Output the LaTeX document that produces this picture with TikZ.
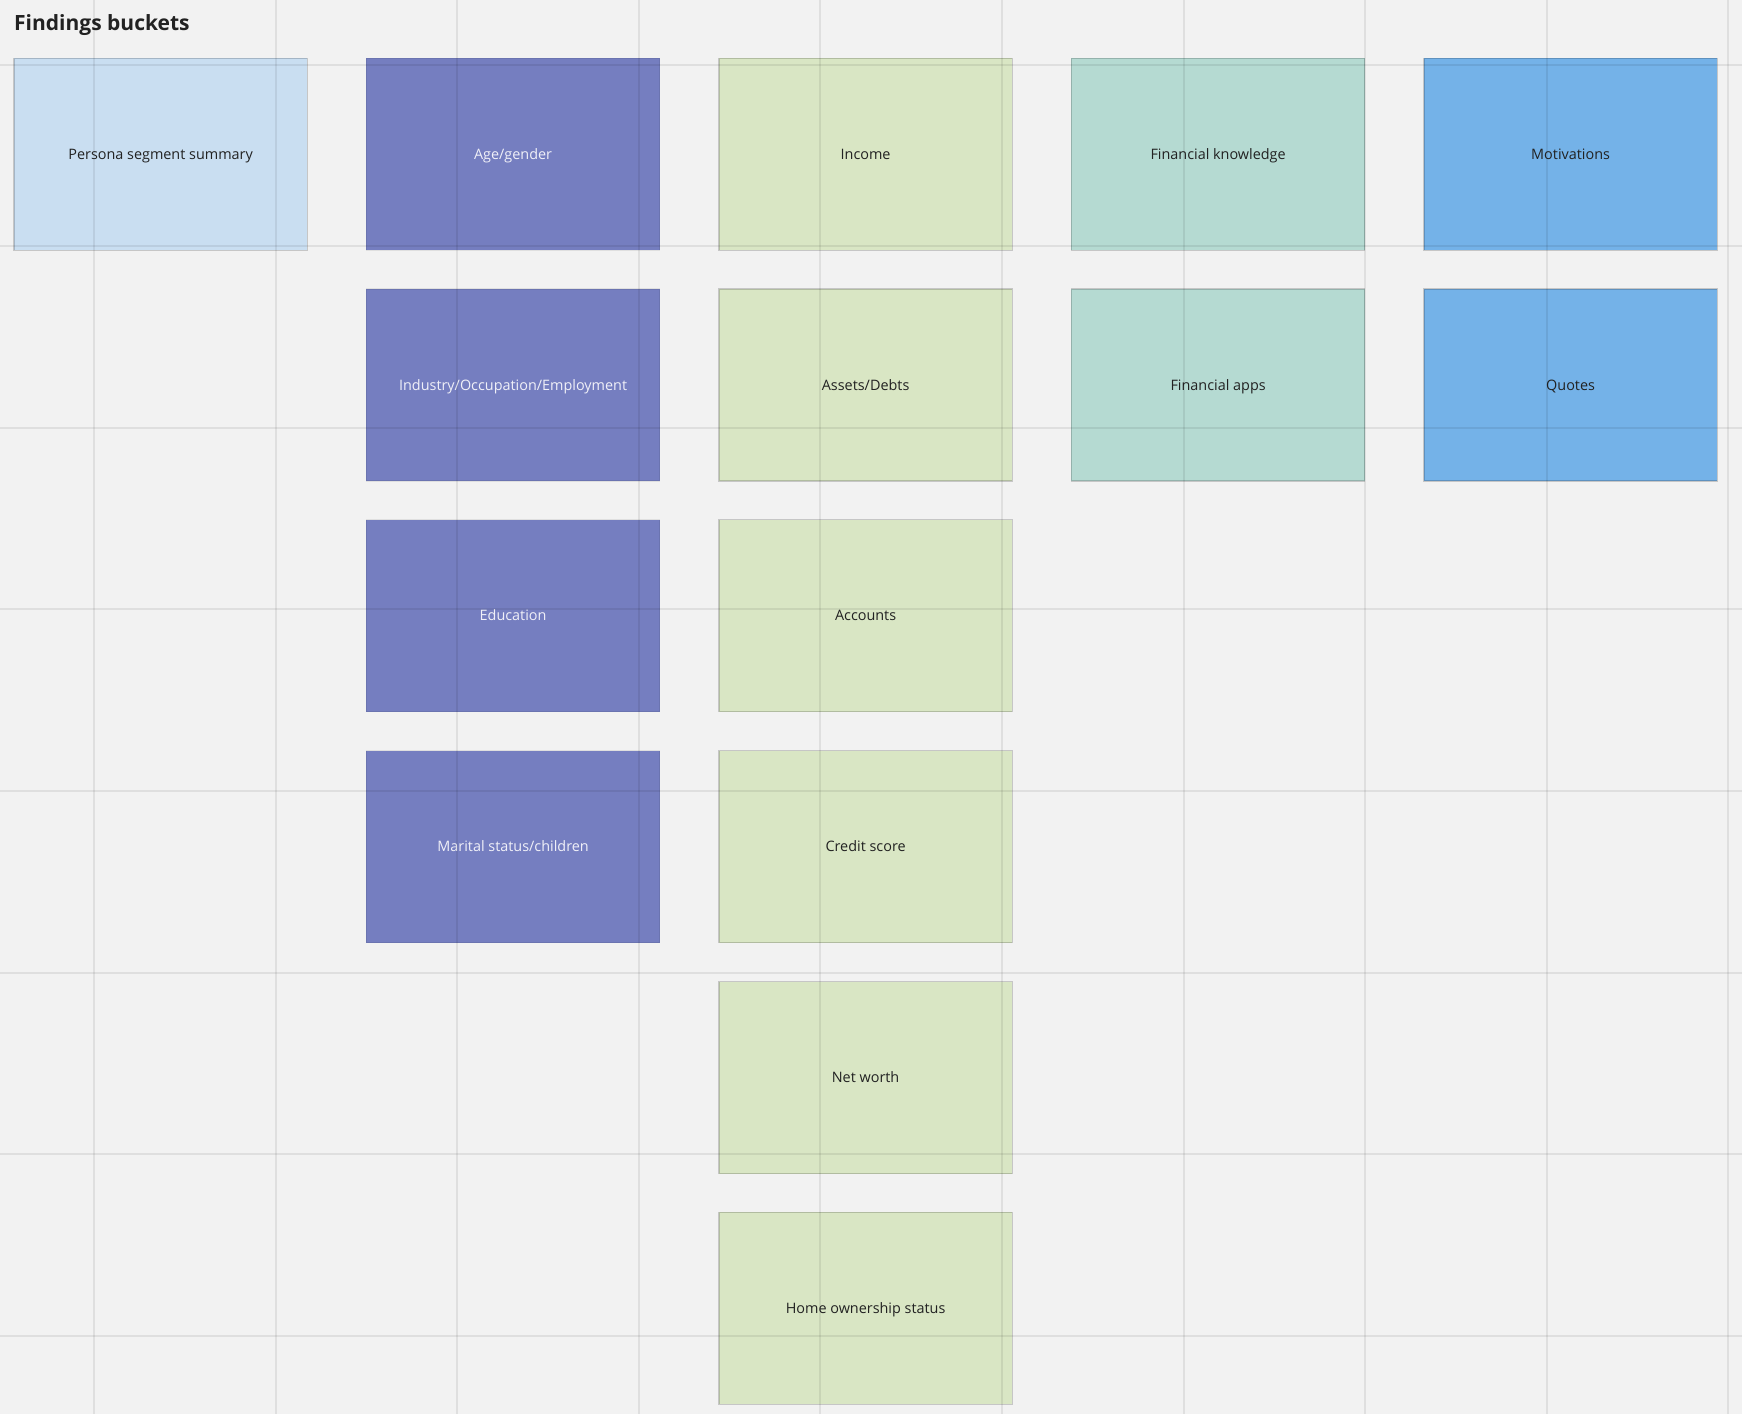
\documentclass[tikz,border=0pt]{standalone}
\usepackage{fontspec}
\setmainfont{Open Sans}
\definecolor{bgc}{RGB}{242,242,242}
\definecolor{cPersona}{RGB}{201,222,241}
\definecolor{cPurple}{RGB}{117,126,192}
\definecolor{cGreen}{RGB}{217,230,196}
\definecolor{cTeal}{RGB}{181,218,210}
\definecolor{cBlue}{RGB}{116,178,232}
\definecolor{cDark}{RGB}{34,34,34}
\definecolor{cLight}{RGB}{240,240,248}
\begin{document}
\begin{tikzpicture}[x=1pt,y=-1pt,
  box/.style={draw=black, draw opacity=0.18, line width=1.2pt,
    minimum width=293.4pt, minimum height=192pt, inner sep=0pt,
    text height=10.3pt, text depth=0pt,
    anchor=north west, font=\fontsize{14.4}{17}\selectfont, text=cDark},
  persona/.style={box, fill=cPersona},
  purple/.style={box, fill=cPurple, text=cLight, draw opacity=0.08},
  green/.style={box, fill=cGreen},
  teal/.style={box, fill=cTeal},
  blue/.style={box, fill=cBlue},
  gridline/.style={black, opacity=0.075, line width=2pt},
  title/.style={anchor=base west, inner sep=0pt, text=cDark,
    font=\fontsize{21}{25}\selectfont\bfseries}]
\fill[bgc] (0,0) rectangle (1742,1414);
\useasboundingbox (0,0) rectangle (1742,1414);
\node[title] (title) at (14,30.7) {Findings buckets};
% column 0
\node[persona] (persona) at (13.3,57.5) {Persona segment summary};
% column 1
\node[purple] (age) at (365.8,57.5) {Age/gender};
\node[purple] (industry) at (365.8,288.35) {Industry/Occupation/Employment};
\node[purple] (education) at (365.8,519.2) {Education};
\node[purple] (marital) at (365.8,750.05) {Marital status/children};
% column 2
\node[green] (income) at (718.3,57.5) {Income};
\node[green] (assets) at (718.3,288.35) {Assets/Debts};
\node[green] (accounts) at (718.3,519.2) {Accounts};
\node[green] (credit) at (718.3,750.05) {Credit score};
\node[green] (networth) at (718.3,980.9) {Net worth};
\node[green] (home) at (718.3,1211.75) {Home ownership status};
% column 3
\node[teal] (knowledge) at (1070.8,57.5) {Financial knowledge};
\node[teal] (apps) at (1070.8,288.35) {Financial apps};
% column 4
\node[blue] (motivations) at (1423.3,57.5) {Motivations};
\node[blue] (quotes) at (1423.3,288.35) {Quotes};
% grid
\foreach \i in {0,...,9} \draw[gridline] ({94+181.6*\i},0) -- ++(0,1414);
\foreach \j in {0,...,7} \draw[gridline] (0,{64.5+181.6*\j}) -- ++(1742,0);
\end{tikzpicture}
\end{document}
